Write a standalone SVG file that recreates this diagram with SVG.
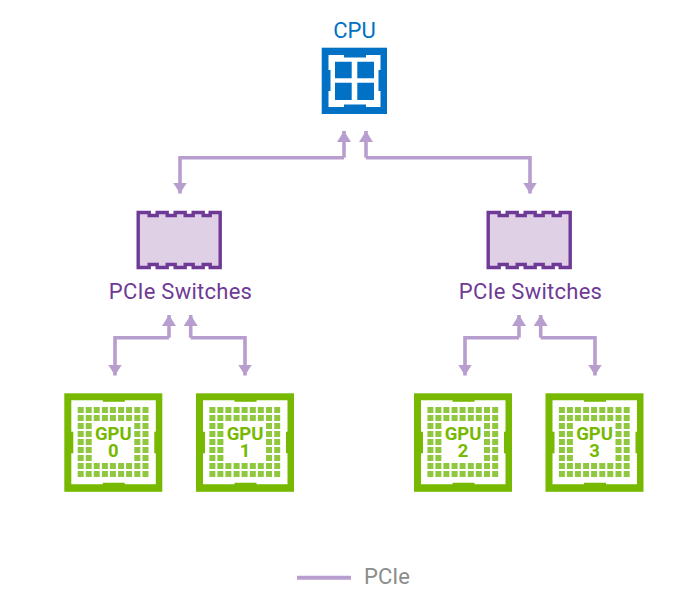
<svg xmlns="http://www.w3.org/2000/svg" width="700" height="595" viewBox="0 0 700 595">
<style>
text{font-family:Roboto,"Liberation Sans",sans-serif}
.lab{font-size:22px;letter-spacing:.25px;fill:#6f3a96;text-anchor:middle}
.cpu{font-size:22px;fill:#0071c5;text-anchor:middle}
.g{font-size:18.500px;font-weight:700;fill:#76b900;text-anchor:middle}
.c{fill:none;stroke:#b89dcf;stroke-width:3.600}
.h{fill:#b89dcf}
.gc{fill:#8fc73e}
.sw{fill:#dfd0e6;stroke:#6f3a96;stroke-width:3.400}
</style>
<defs>
<marker id="ah" markerUnits="userSpaceOnUse" markerWidth="14" markerHeight="14" refX="11" refY="7" orient="auto"><path class="h" d="M0 0L11 7L0 14Z"/></marker>
<g id="cells">
<path class="gc" d="M0 0h6v6h-6zM8 0h6v6h-6zM16 0h6v6h-6zM24.200 0h6v6h-6zM32.200 0h6v6h-6zM40.400 0h6v6h-6zM48.400 0h6v6h-6zM56.600 0h6v6h-6zM64.800 0h6v6h-6z"/>
<path class="gc" d="M0 8h6v6h-6zM8 8h6v6h-6zM16 8h6v6h-6zM24.200 8h6v6h-6zM32.200 8h6v6h-6zM40.400 8h6v6h-6zM48.400 8h6v6h-6zM56.600 8h6v6h-6zM64.800 8h6v6h-6z"/>
<path class="gc" d="M0 16h6v6h-6zM8 16h6v6h-6zM56.600 16h6v6h-6zM64.800 16h6v6h-6zM0 24h6v6h-6zM8 24h6v6h-6zM56.600 24h6v6h-6zM64.800 24h6v6h-6zM0 32h6v6h-6zM8 32h6v6h-6zM56.600 32h6v6h-6zM64.800 32h6v6h-6zM0 40h6v6h-6zM8 40h6v6h-6zM56.600 40h6v6h-6zM64.800 40h6v6h-6zM0 48h6v6h-6zM8 48h6v6h-6zM56.600 48h6v6h-6zM64.800 48h6v6h-6z"/>
<path class="gc" d="M0 56h6v6h-6zM8 56h6v6h-6zM16 56h6v6h-6zM24.200 56h6v6h-6zM32.200 56h6v6h-6zM40.400 56h6v6h-6zM48.400 56h6v6h-6zM56.600 56h6v6h-6zM64.800 56h6v6h-6z"/>
<path class="gc" d="M0 64h6v6h-6zM8 64h6v6h-6zM16 64h6v6h-6zM24.200 64h6v6h-6zM32.200 64h6v6h-6zM40.400 64h6v6h-6zM48.400 64h6v6h-6zM56.600 64h6v6h-6zM64.800 64h6v6h-6z"/>
</g>
<g id="gpu">
<rect x="0" y="0" width="98" height="98.500" fill="#76b900"/>
<path fill="#fff" d="M7 7H38.500V8.500H60.500V7H91.500V38.500H90V60H91.500V91H60.500V89.500H38.500V91H7V60H9V38.500H7Z"/>
<use href="#cells" x="13.400" y="13.700"/>
</g>
<path id="sw" class="sw" d="M1.500 1.500H12.500V4.500H20.500V1.500H30.500V4.500H38.500V1.500H48.500V4.500H56.500V1.500H66.500V4.500H73.500V1.500H83.500V56.500H73.500V53.500H66.500V56.500H56.500V53.500H48.500V56.500H38.500V53.500H30.500V56.500H20.500V53.500H12.500V56.500H1.500Z"/>
</defs>
<g id="connectors">
<path class="c" marker-end="url(#ah)" d="M344 157.700H180V193.500"/>
<path class="c" marker-end="url(#ah)" d="M344 157.700V131"/>
<path class="c" marker-end="url(#ah)" d="M366 157.700H530V193.500"/>
<path class="c" marker-end="url(#ah)" d="M366 157.700V131"/>
<path class="c" marker-end="url(#ah)" d="M169 337.700H115V375.500"/>
<path class="c" marker-end="url(#ah)" d="M169 337.700V315"/>
<path class="c" marker-end="url(#ah)" d="M190.700 337.700H245V375.500"/>
<path class="c" marker-end="url(#ah)" d="M190.700 337.700V315"/>
<path class="c" marker-end="url(#ah)" d="M519 337.700H465V375.500"/>
<path class="c" marker-end="url(#ah)" d="M519 337.700V315"/>
<path class="c" marker-end="url(#ah)" d="M540.700 337.700H595V375.500"/>
<path class="c" marker-end="url(#ah)" d="M540.700 337.700V315"/>
</g>
<g id="cpu">
<text class="cpu" x="354.500" y="37.500">CPU</text>
<rect x="321.700" y="47.700" width="65.300" height="66.300" fill="#0071c5"/>
<path fill="#fff" d="M328.500 55H344V57.500H366V55H380.500V70H378.500V91H380.500V107H366V104.500H344V107H328.500V91H330.500V70H328.500Z"/>
<path fill="#0071c5" d="M335 61.700h16.700v16.600h-16.700zM357.300 61.700h16.700v16.600h-16.700zM335 82.700h16.700v17.300h-16.700zM357.300 82.700h16.700v17.300h-16.700z"/>
</g>
<g id="switch-left">
<use href="#sw" x="136.700" y="211"/>
<text class="lab" x="180.500" y="298.500">PCIe Switches</text>
</g>
<g id="switch-right">
<use href="#sw" x="486.700" y="211"/>
<text class="lab" x="530.500" y="298.500">PCIe Switches</text>
</g>
<g id="gpu0"><use href="#gpu" x="64.300" y="393.300"/><text class="g"><tspan x="113.300" y="440">GPU</tspan><tspan x="113.300" y="457">0</tspan></text></g>
<g id="gpu1"><use href="#gpu" x="196" y="393.300"/><text class="g"><tspan x="245" y="440">GPU</tspan><tspan x="245" y="457">1</tspan></text></g>
<g id="gpu2"><use href="#gpu" x="414" y="393.300"/><text class="g"><tspan x="463" y="440">GPU</tspan><tspan x="463" y="457">2</tspan></text></g>
<g id="gpu3"><use href="#gpu" x="545.500" y="393.300"/><text class="g"><tspan x="594.500" y="440">GPU</tspan><tspan x="594.500" y="457">3</tspan></text></g>
<g id="legend">
<path d="M297 577.700H351" stroke="#b89dcf" stroke-width="4" fill="none"/>
<text x="364" y="583.500" font-size="22" fill="#8c8c8c">PCIe</text>
</g>
</svg>
